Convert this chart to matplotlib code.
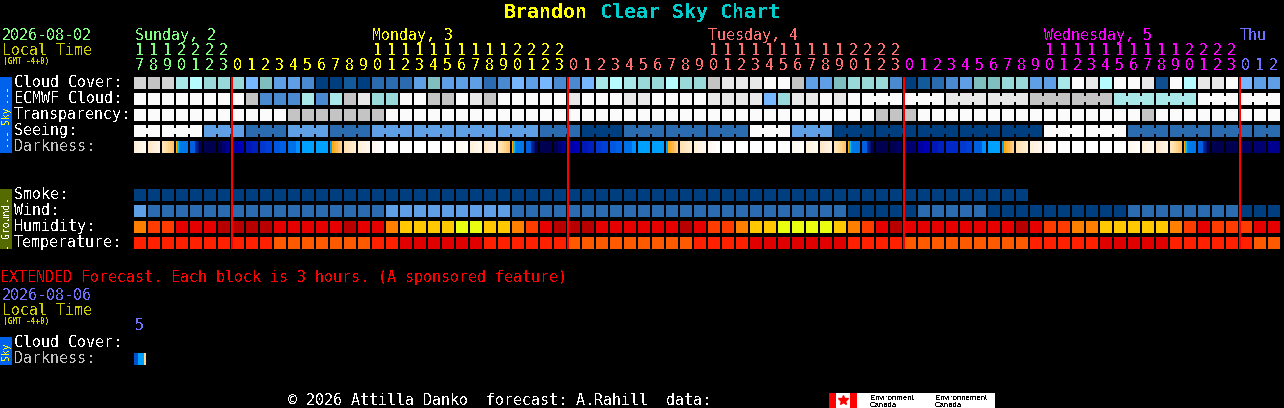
"""Brandon Clear Sky Chart, drawn as a block grid."""
import matplotlib
matplotlib.use('Agg')
import matplotlib.pyplot as plt
from matplotlib.patches import Rectangle

plt.rcParams['font.family'] = ['DejaVu Sans Mono', 'Liberation Mono']
plt.rcParams['text.antialiased'] = False

# every hourly row is one letter per column, grouped in tens
CLOUD = "mkmijhhhfg eedaabaccc egeeecdfef ddfijihhjh hklllwwkee ghhhdabcde gghheeiwlj wwlnwjllwf ee"
ECMWF = "wwwwwwwwkd ddidiklhhw wkkwlkwwww wlwwwllwww wllllfhllw lwwwwwwwll llllkkkkkk iiiiiiwwww ww"
TRANSP = "wwwwwwwwww wkkkkkkkww wwwwwwwwww wwwwwwwwww wwwwwwwwww wwwkkkwwww wwwwwwwwww wwkwwwwwww ww"
SEEING = "wwwwweeecc ceeeccceee eeeeeeeeec ccaaaccccc ccccwwweee aaaaaaaaaa aaaaawwwww wccccccccc cc"
DARKNESS = "qstuvxyzAB CEFFGHIJww wwwpqstuvx yzABCEFFGH IJwwwwwpqs tuvxMNzAOB PFGHIJwwww wpqstuvxxR ST"
SMOKE = "aaaaaaaaaa aaaaaaaaaa aaaaaaaaaa aaaaaaaaaa aaaaaaaaaa aaaaaaaaaa aaaa"
WIND = "eccccccccc ccccccccee eeeeeeeccc cccccccccc cccccccccc caaaaacccc caaaaaaaaa acccccccca aa"
HUMIDITY = "orrtttDDDD tttttDttoY YYYGGYYort DDDttttttD trroYYGGGG YortDttttt tttDtrrooY YYYYortrrr tt"
TEMPERATURE = "rrrrrrrrrr ooooooorrd dddddrrrrr rooooooooo rrrrdddddd drrrrooooo oooorrrrrd ddddrrrrrr oo"

CLOUD_COLORS = {
    'a': '#003f7f', 'b': '#135a9a', 'c': '#2b6cb0', 'd': '#4a8ad0', 'e': '#5f9fe5',
    'f': '#77b7ff', 'g': '#7fbfbf', 'h': '#99d9d9', 'i': '#a8e8e8', 'j': '#b5fbff',
    'k': '#c4c4c4', 'l': '#e8e8e8', 'm': '#d4d4d4', 'n': '#0f4f90', 'w': '#fbfbfb',
}
HUMIDITY_COLORS = {'o': '#ff8000', 'r': '#ff3c00', 't': '#e60000', 'D': '#b80000',
                   'Y': '#ffc800', 'G': '#eaff10'}
TEMPERATURE_COLORS = {'r': '#ff2000', 'o': '#ff5a00', 'd': '#e00000'}

# darkness blocks shade inside a block, so each letter holds its colour stops
DARK_STOPS = {
    'w': 'ffffff',
    'p': 'fff8f0 fffaf4 fffcf8 ffffff',
    'q': 'fff0dc fff3e3 fff6ea fff9f1',
    's': 'ffe8c8 ffecd2 fff0dc fff4e6',
    't': 'ffe6b8 ffe2ae ffdca0 ffd48c ffcc7c ffc468',
    'u': 'ffaa00 00c0ff 00c0ff 0078e8 0078e8 0078e8 0078e8 0078e8 0078e8 0078e8 0078e8 0078e8',
    'v': '0060e0 0060e0 0060e0 0030a8 002090 001070 000060 000050',
    'x': '000050',
    'y': '000050 000070 000090',
    'z': '0000a0 0000b8',
    'A': '0018b8 0020c0',
    'B': '0038d0 0040d8',
    'C': '0058e0 0060e8',
    'E': '0070e8 0070e8 0090ff',
    'F': '00a0ff',
    'G': '00a0ff ffaa00 ffb030 ffb848 ffc468 ffd088',
    'H': 'ffe0b0 ffe4bc ffe8c8 ffecd2',
    'I': 'fff0dc fff3e3 fff6ea',
    'J': 'fff8f0 fffbf6 ffffff',
    'M': '000050 000060',
    'N': '000070',
    'O': '0028c8',
    'P': '0060e0 0060e0 0090ff',
    'R': '000060',
    'S': '000070',
    'T': '000090',
}
EXTENDED_DARKNESS = '0050d0 0050d0 00a0ff 00a0ff 00a0ff ffd890'

# hour labels, by day
START_HOUR = 17
DAY_HOURS = [7, 24, 24, 24, 3]
DAY_COLORS = ['#7fff7f', '#ffff00', '#ff7070', '#ff00ff', '#7070ff']
DAY_NAMES = ['Sunday, 2', 'Monday, 3', 'Tuesday, 4', 'Wednesday, 5', 'Thu']
DAY_NAME_X = [135, 372, 708, 1044, 1240]

SKY_LABELS = ['Cloud Cover:', 'ECMWF Cloud:', 'Transparency:', 'Seeing:', 'Darkness:']
GROUND_LABELS = ['Smoke:', 'Wind:', 'Humidity:', 'Temperature:']

WIDTH, HEIGHT = 1284, 408
GRID_X, GRID_Y = 134, 77
STEP_X, STEP_Y = 14, 16
CELL = 12
FONT_PT = 10.8
GROUND_ROW = 7
EXTENDED_ROW = 17.25


def cells(row_text):
    return list(row_text.replace(' ', ''))


def draw_row(ax, row, letters, colors, first_group=None, group_from=0):
    xs = list(range(len(letters)))
    ax.bar(xs, CELL / STEP_Y, width=CELL / STEP_X, bottom=row, align='edge',
           color=[colors[c] for c in letters], linewidth=0, antialiased=False)
    if first_group is None:
        return
    # 3-hour data: blocks of one forecast step are joined by a small bridge
    for i in range(group_from, len(letters) - 1):
        if (i + 1 - first_group) % 3 != 0:
            ax.bar(i + CELL / STEP_X, 6 / STEP_Y, width=2 / STEP_X, bottom=row + 3 / STEP_Y,
                   align='edge', color=colors[letters[i]], linewidth=0, antialiased=False)


def draw_stops(ax, row, col, stops):
    stops = stops.split()
    w = CELL / STEP_X / len(stops)
    for k, stop in enumerate(stops):
        ax.bar(col + k * w, CELL / STEP_Y, width=w, bottom=row, align='edge',
               color='#' + stop, linewidth=0, antialiased=False)


def side_text(px, y, text, color, size=7):
    px.text(6, y, text, color=color, fontsize=size, rotation=90, ha='center', va='center')


fig = plt.figure(figsize=(WIDTH / 100, HEIGHT / 100), dpi=100, facecolor='black')

# block grid: one unit is a column across and a row down
ax = fig.add_axes([0, 0, 1, 1])
ax.set_xlim(-GRID_X / STEP_X, (WIDTH - GRID_X) / STEP_X)
ax.set_ylim((HEIGHT - GRID_Y) / STEP_Y, -GRID_Y / STEP_Y)
ax.axis('off')

# pixel overlay for the texts and side bars
px = fig.add_axes([0, 0, 1, 1])
px.set_xlim(0, WIDTH)
px.set_ylim(HEIGHT, 0)
px.axis('off')
px.patch.set_alpha(0)

draw_row(ax, 0, cells(CLOUD), CLOUD_COLORS)
draw_row(ax, 1, cells(ECMWF), CLOUD_COLORS, first_group=52, group_from=52)
draw_row(ax, 2, cells(TRANSP), CLOUD_COLORS)
draw_row(ax, 3, cells(SEEING), CLOUD_COLORS, first_group=2)
for col, letter in enumerate(cells(DARKNESS)):
    draw_stops(ax, 4, col, DARK_STOPS[letter])
draw_row(ax, GROUND_ROW, cells(SMOKE), CLOUD_COLORS)
draw_row(ax, GROUND_ROW + 1, cells(WIND), CLOUD_COLORS)
draw_row(ax, GROUND_ROW + 2, cells(HUMIDITY), HUMIDITY_COLORS)
draw_row(ax, GROUND_ROW + 3, cells(TEMPERATURE), TEMPERATURE_COLORS)
draw_stops(ax, EXTENDED_ROW, 0, EXTENDED_DARKNESS)

# red midnight lines and hour labels
col = 0
hour = START_HOUR
for n_hours, color in zip(DAY_HOURS, DAY_COLORS):
    if col > 0:
        ax.vlines(col, 0, GROUND_ROW + 3 + CELL / STEP_Y, color='#ff0000', linewidth=1.44,
                  antialiased=False, zorder=5)
    for _ in range(n_hours):
        x = GRID_X + col * STEP_X + 1
        if hour >= 10:
            px.text(x, 55, str(hour // 10), color=color, fontsize=FONT_PT)
        px.text(x, 70, str(hour % 10), color=color, fontsize=FONT_PT)
        col += 1
        hour = (hour + 1) % 24

for name, x, color in zip(DAY_NAMES, DAY_NAME_X, DAY_COLORS):
    px.text(x, 40, name, color=color, fontsize=FONT_PT)

# title
px.text(504, 18, 'Brandon', color='#ffff00', fontsize=14.4, fontweight='bold')
px.text(600, 18, 'Clear Sky Chart', color='#00cccc', fontsize=14.4, fontweight='bold')

# date blocks
px.text(2, 40, '2026-08-02', color='#7fff7f', fontsize=FONT_PT)
px.text(2, 55, 'Local Time', color='#cccc00', fontsize=FONT_PT)
px.text(3, 64, '(GMT -4+0)', color='#cccc00', fontsize=5.6, fontweight='bold')

for i, label in enumerate(SKY_LABELS):
    px.text(14, 87 + i * STEP_Y, label, color='#c0c0c0' if label == 'Darkness:' else 'white',
            fontsize=FONT_PT)
for i, label in enumerate(GROUND_LABELS):
    px.text(14, 199 + i * STEP_Y, label, color='white', fontsize=FONT_PT)

# side bars
px.add_patch(Rectangle((0, 77), 12, 76, color='#0062ec', linewidth=0))
side_text(px, 93, '---', '#ffff00')
side_text(px, 115, 'Sky', '#ffff00')
side_text(px, 137, '---', '#ffff00')
px.add_patch(Rectangle((0, 189), 12, 60, color='#556b00', linewidth=0))
side_text(px, 198, '-', 'white')
side_text(px, 220, 'Ground', 'white')
side_text(px, 245, '-', 'white')

# extended forecast
px.text(0, 282, 'EXTENDED Forecast. Each block is 3 hours. (A sponsored feature)',
        color='#ff0000', fontsize=FONT_PT)
px.text(2, 300, '2026-08-06', color='#7070ff', fontsize=FONT_PT)
px.text(2, 315, 'Local Time', color='#cccc00', fontsize=FONT_PT)
px.text(3, 324, '(GMT -4+0)', color='#cccc00', fontsize=5.6, fontweight='bold')
px.text(135, 330, '5', color='#7070ff', fontsize=FONT_PT)
px.text(14, 347, 'Cloud Cover:', color='white', fontsize=FONT_PT)
px.text(14, 363, 'Darkness:', color='#c0c0c0', fontsize=FONT_PT)
px.add_patch(Rectangle((0, 337), 12, 28, color='#0062ec', linewidth=0))
side_text(px, 351, 'Sky', '#ffff00')

# footer and logo
px.text(288, 405, '\u00a9 2026 Attilla Danko  forecast: A.Rahill  data:', color='white',
        fontsize=FONT_PT)
px.add_patch(Rectangle((829, 393), 166, 15, color='white', linewidth=0))
px.add_patch(Rectangle((829, 393), 7, 15, color='#ff0000', linewidth=0))
px.add_patch(Rectangle((850, 393), 7, 15, color='#ff0000', linewidth=0))
px.plot([843], [400], marker='*', markersize=7, color='#ff0000', linestyle='none')
for x, top in [(870, 'Environment'), (935, 'Environnement')]:
    px.text(x, 400, top, color='black', fontsize=5.6, family='Liberation Sans')
    px.text(x, 407, 'Canada', color='black', fontsize=5.6, family='Liberation Sans')

fig.savefig('out.png', dpi=100, facecolor='black')
plt.close(fig)
